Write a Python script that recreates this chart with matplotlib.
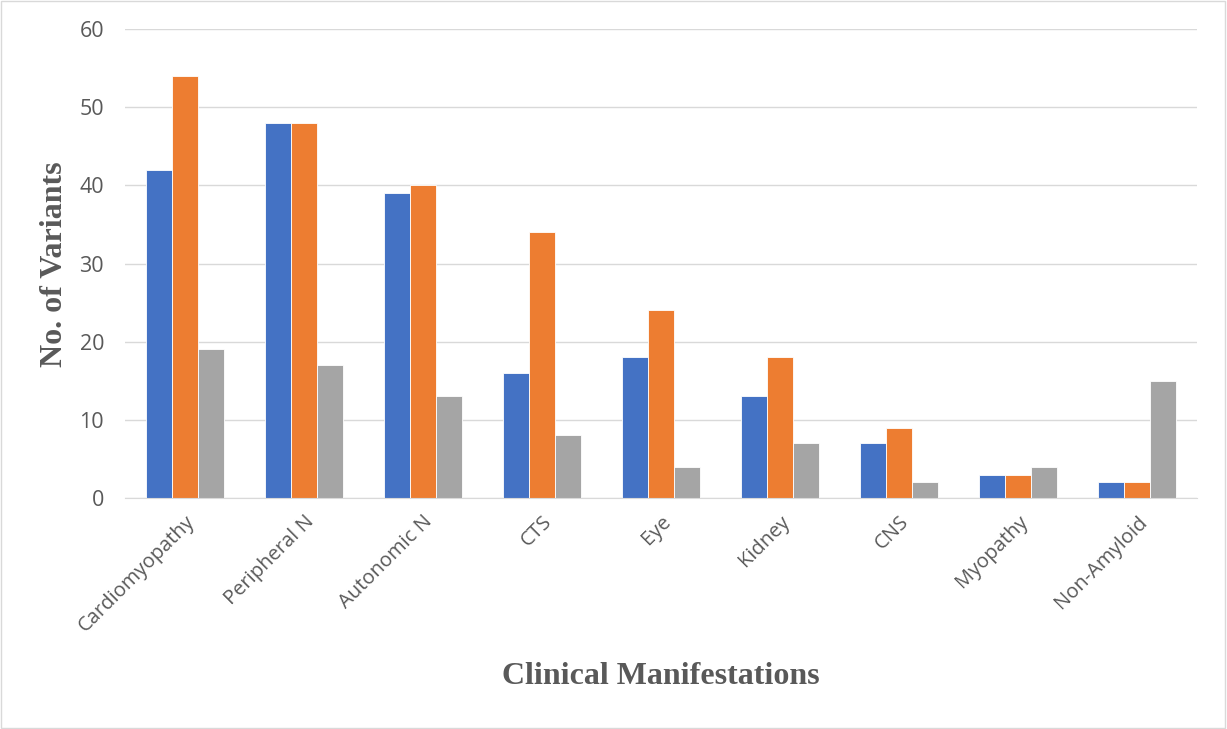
import matplotlib
matplotlib.use("Agg")
import matplotlib.pyplot as plt
import numpy as np

categories = ["Cardiomyopathy", "Peripheral N", "Autonomic N", "CTS", "Eye",
              "Kidney", "CNS", "Myopathy", "Non-Amyloid"]
series_blue = [42, 48, 39, 16, 18, 13, 7, 3, 2]
series_orange = [54, 48, 40, 34, 24, 18, 9, 3, 2]
series_gray = [19, 17, 13, 8, 4, 7, 2, 4, 15]
y_ticks = [0, 10, 20, 30, 40, 50, 60]

fig = plt.figure(figsize=(12.27, 7.29), dpi=100)
ax = fig.add_axes([125 / 1227, 1 - 498 / 729, 1072 / 1227, 469 / 729])

x = np.arange(len(categories))
w = 0.218
bar_kw = dict(edgecolor="white", linewidth=0.6, zorder=3)
ax.bar(x - w, series_blue, w, color="#4472C4", **bar_kw)
ax.bar(x, series_orange, w, color="#ED7D31", **bar_kw)
ax.bar(x + w, series_gray, w, color="#A5A5A5", **bar_kw)

ax.set_xlim(-0.5, len(categories) - 0.5)
ax.set_ylim(0, 60)
ax.set_yticks(y_ticks)
ax.yaxis.grid(True, color="#D9D9D9", linewidth=1, zorder=0)
for s in ["top", "right", "left"]:
    ax.spines[s].set_visible(False)
ax.spines["bottom"].set_color("#D9D9D9")
ax.spines["bottom"].set_zorder(4)
ax.tick_params(axis="both", length=0, colors="#595959")
ax.tick_params(axis="x", pad=10, labelsize=14.5)
ax.tick_params(axis="y", pad=15, labelsize=15.5)
ax.set_xticks(x)
ax.set_xticklabels(categories, rotation=45, ha="right", rotation_mode="anchor",
                   family="Open Sans")
for lab in ax.get_yticklabels():
    lab.set_family("Open Sans")

fig.text(55 / 1227, 1 - 264 / 729, "No. of Variants", rotation=90, ha="center",
         va="center", family="Liberation Serif", fontweight="bold", fontsize=23,
         color="#595959")
fig.text(661 / 1227, 1 - 677 / 729, "Clinical Manifestations", ha="center",
         va="center", family="Liberation Serif", fontweight="bold", fontsize=23,
         color="#595959")

border = plt.Rectangle((0.001, 0.001), 0.997, 0.997, transform=fig.transFigure,
                       fill=False, edgecolor="#D9D9D9", linewidth=1)
fig.patches.append(border)

fig.savefig("out.png", dpi=100)
